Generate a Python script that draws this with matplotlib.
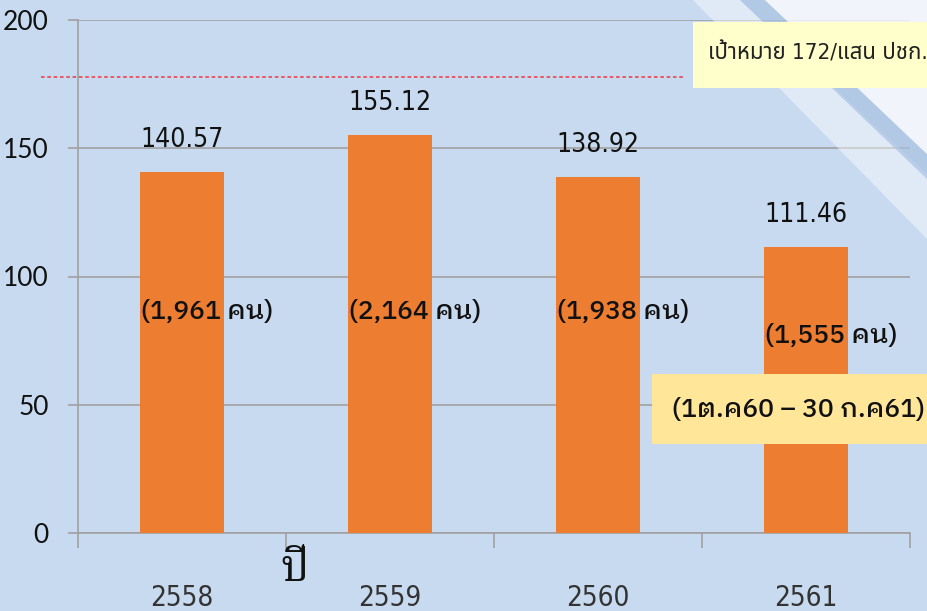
import numpy as np
import matplotlib.pyplot as plt
from matplotlib import font_manager
from matplotlib.patches import Polygon, Rectangle

plt.rcParams['figure.dpi'] = 100

years = ['2558', '2559', '2560', '2561']
rates = [140.57, 155.12, 138.92, 111.46]
counts = ['(1,961 คน)', '(2,164 คน)', '(1,938 คน)', '(1,555 คน)']
target_line = 177.8
target_text = 'เป้าหมาย 172/แสน ปชก.'
period_text = '(1ต.ค60 – 30 ก.ค61)'

bg = '#C8DAF0'
names = {f.name for f in font_manager.fontManager.ttflist}
narrow_name = 'Liberation Sans Narrow' if 'Liberation Sans Narrow' in names else 'DejaVu Sans'
narrow = [narrow_name, 'Noto Sans Thai']
thai = ['IBM Plex Sans Thai Looped', 'Noto Sans Thai Looped', 'DejaVu Sans']

fig = plt.figure(figsize=(9.28, 6.11), facecolor=bg)

# diagonal light stripes in the top right corner
W, H = 928, 611
def fpoly(pts, color, alpha):
    p = Polygon([(x / W, 1 - y / H) for x, y in pts], closed=True,
                transform=fig.transFigure, facecolor=color, edgecolor='none',
                alpha=alpha, zorder=0)
    fig.patches.append(p)

fpoly([(693, 0), (740, 0), (928, 175), (928, 240)], 'white', 0.45)
fpoly([(740, 0), (765, 0), (928, 155), (928, 180)], '#A9C2E3', 0.7)
fpoly([(765, 0), (928, 0), (928, 155)], 'white', 0.75)

ax = fig.add_axes([78 / W, 78 / H, (910 - 78) / W, (533 - 20) / H])
ax.set_facecolor('none')

x = np.arange(len(years))
ax.bar(x, rates, width=0.4, color='#ED7D31', zorder=3)

ax.set_xlim(-0.5, len(years) - 0.5)
ax.set_ylim(0, 200)
ax.set_yticks([0, 50, 100, 150, 200])
ax.yaxis.grid(True, color='#A0A0A0', linewidth=1.2, zorder=1)
ax.set_axisbelow(True)

for s in ['top', 'right']:
    ax.spines[s].set_visible(False)
for s in ['left', 'bottom']:
    ax.spines[s].set_color('#A0A0A0')
    ax.spines[s].set_linewidth(1.2)

ax.tick_params(axis='y', length=7, color='#A0A0A0', width=1.2, pad=14,
               labelsize=19, labelcolor='#111111')
for t in ax.get_yticklabels():
    t.set_fontfamily(['Lato', 'DejaVu Sans'])

ax.set_xticks(x)
ax.set_xticklabels(years, fontfamily=narrow, fontstretch='condensed',
                   fontsize=20, color='#333333')
ax.set_xticks(np.arange(len(years) + 1) - 0.5, minor=True)
ax.tick_params(axis='x', which='major', length=0, pad=37)
ax.tick_params(axis='x', which='minor', length=11, color='#A0A0A0', width=1.2)

# target line
ax.axhline(target_line, xmin=-0.045, xmax=0.73, color='#E8505B',
           linestyle=(0, (2, 1.5)), linewidth=1.3, clip_on=False, zorder=2)

for xi, v in zip(x, rates):
    ax.annotate(f'{v:.2f}', (xi, v), xytext=(0, 23), textcoords='offset points',
                ha='center', va='center', fontsize=19, fontfamily=narrow,
                fontstretch='condensed', color='#111111', zorder=5)

count_y = [86.2, 86.2, 86.2, 76.8]
for xi, c, cy in zip(x, counts, count_y):
    ax.text(xi + 0.12, cy, c, ha='center', va='center', fontsize=19,
            fontweight='medium', fontfamily=thai, color='#111111', zorder=5)

# target box
fig.patches.append(Rectangle((693 / W, 1 - 88 / H), (W - 693) / W, 66 / H,
                             transform=fig.transFigure, facecolor='#FFFFCC',
                             edgecolor='none', zorder=4))
fig.text(708 / W, 1 - 53 / H, target_text, ha='left', va='center',
         fontsize=16, fontfamily=narrow, fontstretch='condensed',
         color='#222222', zorder=5)

# period box
fig.patches.append(Rectangle((652 / W, 1 - 444 / H), (W - 652) / W, 70 / H,
                             transform=fig.transFigure, facecolor='#FFE699',
                             edgecolor='none', zorder=4))
fig.text(672 / W, 1 - 410 / H, period_text, ha='left', va='center',
         fontsize=19, fontweight='medium', fontfamily=thai,
         color='#111111', zorder=5)

fig.text(295 / W, 1 - 570 / H, 'ปี', ha='center', va='center', fontsize=32,
         fontfamily=['Noto Serif Thai', 'FreeSerif'], color='#111111')

fig.savefig('out.png', dpi=100, facecolor=bg)
